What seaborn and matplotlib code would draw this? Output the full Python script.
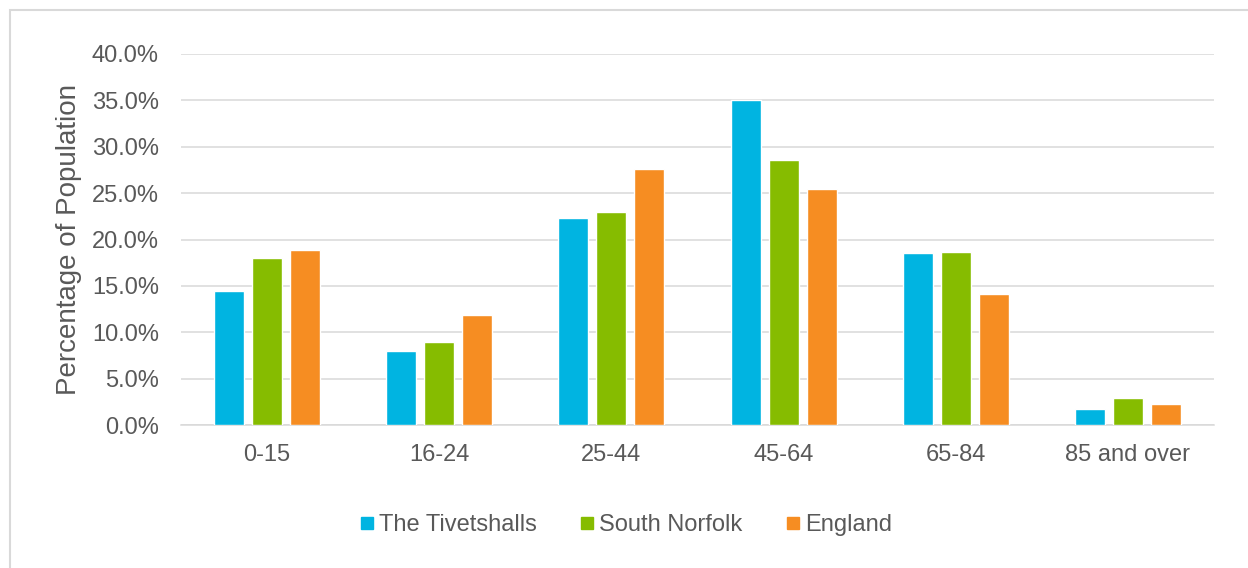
import matplotlib
matplotlib.use("Agg")
import matplotlib.pyplot as plt
from matplotlib.patches import Rectangle
from matplotlib.lines import Line2D
import seaborn as sns
import pandas as pd

# Age bands and share of population (%) for each area
age_groups = ["0-15", "16-24", "25-44", "45-64", "65-84", "85 and over"]
areas = ["The Tivetshalls", "South Norfolk", "England"]
tivetshalls = [14.5, 8.0, 22.3, 35.0, 18.5, 1.7]
south_norfolk = [18.0, 9.0, 23.0, 28.6, 18.6, 2.9]
england = [18.9, 11.9, 27.6, 25.4, 14.1, 2.3]
y_ticks = [0, 5, 10, 15, 20, 25, 30, 35, 40]

colors = ["#00B4E1", "#86BC00", "#F68D22"]
text_color = "#595959"
grid_color = "#D9D9D9"

df = pd.DataFrame({
    "Age": age_groups * 3,
    "Area": [areas[0]] * 6 + [areas[1]] * 6 + [areas[2]] * 6,
    "Value": tivetshalls + south_norfolk + england,
})

sns.set_theme(style="white")
plt.rcParams["font.family"] = ["Liberation Sans", "DejaVu Sans"]

fig = plt.figure(figsize=(12.48, 5.68), dpi=100)
ax = fig.add_axes([181 / 1248, 1 - 425 / 568, (1214 - 181) / 1248, (425 - 54) / 568])

sns.barplot(data=df, x="Age", y="Value", hue="Area", order=age_groups,
            hue_order=areas, palette=colors, width=0.663, gap=0.21,
            saturation=1, ax=ax, legend=False, zorder=3)

ax.set_ylim(0, 40)
ax.set_xlim(-0.5, len(age_groups) - 0.5)
ax.set_yticks(y_ticks)
ax.set_yticklabels([f"{v:.1f}%" for v in y_ticks])
ax.yaxis.grid(True, color=grid_color, linewidth=1.1, zorder=0)
ax.set_axisbelow(True)
for s in ["top", "right", "left"]:
    ax.spines[s].set_visible(False)
ax.spines["bottom"].set_color(grid_color)
ax.spines["bottom"].set_linewidth(1.1)

ax.tick_params(axis="y", length=0, pad=16, labelsize=17, labelcolor=text_color)
ax.tick_params(axis="x", length=0, pad=14, labelsize=17, labelcolor=text_color)
ax.set_xlabel("")
ax.set_ylabel("Percentage of Population", fontsize=20, color=text_color, labelpad=7)

handles = [Line2D([0], [0], marker="s", linestyle="none", markersize=9,
                  markerfacecolor=c, markeredgecolor=c) for c in colors]
fig.legend(handles, areas, loc="center", bbox_to_anchor=(625 / 1248, 1 - 525 / 568),
           ncol=3, frameon=False, fontsize=17, labelcolor=text_color,
           handletextpad=0.15, columnspacing=1.75, handlelength=0.75)

# Chart frame
fig.patches.append(Rectangle((10 / 1248, -0.05), 1.2, 1 - 10 / 568 + 0.05,
                             transform=fig.transFigure, fill=False,
                             edgecolor=grid_color, linewidth=1.5))

fig.savefig("out.png", dpi=100, facecolor="white")
